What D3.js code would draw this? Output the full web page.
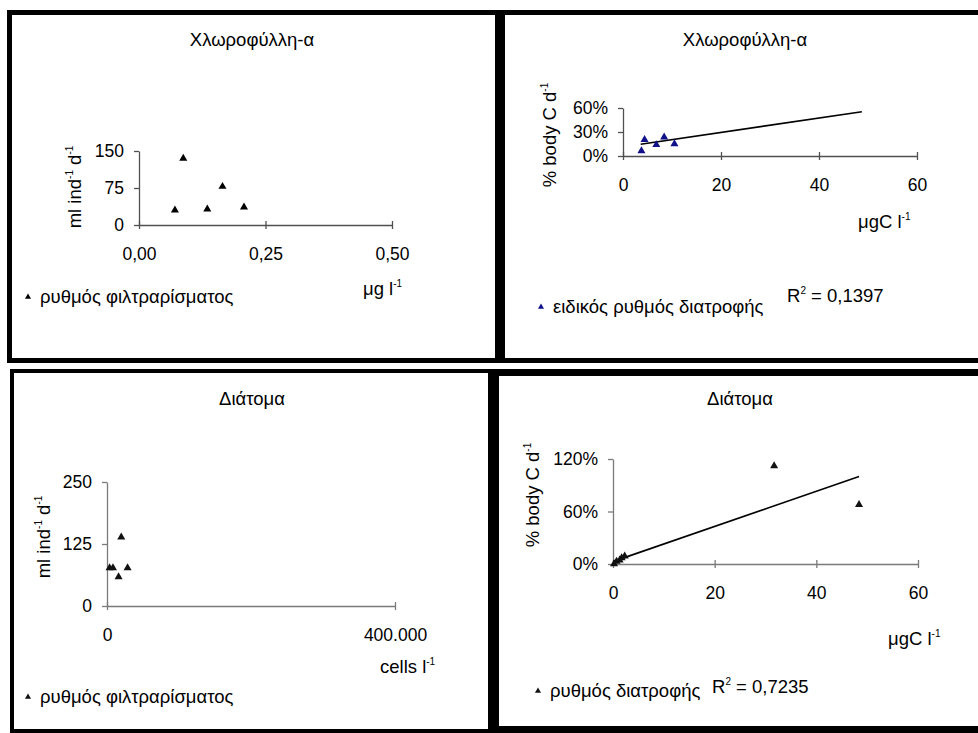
<!DOCTYPE html>
<html>
<head>
<meta charset="utf-8">
<script src="https://cdn.jsdelivr.net/npm/d3@7"></script>
<style>
  body { margin: 0; background: #fff; }
  text { font-family: "Liberation Sans", Arial, sans-serif; }
</style>
</head>
<body>
<svg id="chart" width="978" height="733"></svg>
<script>
// chlorophyll-a: filtration rate (ml ind-1 d-1) vs µg l-1
const chlaFiltX = [0.071, 0.0875, 0.135, 0.165, 0.2075];
const chlaFiltY = [30, 135, 32, 78, 36];
const chlaFiltXTicks = [0, 0.25, 0.5];
const chlaFiltYTicks = [0, 75, 150];

// chlorophyll-a: specific feeding rate (% body C d-1) vs µgC l-1
const chlaFeedX = [3.76, 4.4, 6.8, 8.4, 10.5];
const chlaFeedY = [0.064, 0.205, 0.14, 0.235, 0.152];
const chlaTrendX = [3.6, 48.75];
const chlaTrendY = [0.146, 0.554];
const chlaFeedYTicks = [0, 0.3, 0.6];

// diatoms: filtration rate vs cells l-1
const diatFiltX = [3600, 8300, 16100, 19800, 28600];
const diatFiltY = [77, 77, 58.5, 139, 77];
const diatFiltXTicks = [0, 400000];
const diatFiltYTicks = [0, 125, 250];

// diatoms: feeding rate vs µgC l-1
const diatFeedX = [0.2, 0.7, 1.3, 1.7, 2.3, 31.7, 48.4];
const diatFeedY = [0.0, 0.03, 0.045, 0.07, 0.09, 1.12, 0.678];
const diatTrendX = [0.1, 48.4];
const diatTrendY = [0.03, 1.0];
const diatFeedYTicks = [0, 0.6, 1.2];

const feedXTicks = [0, 20, 40, 60];

const loc = d3.formatLocale({ decimal: ",", thousands: ".", grouping: [3], currency: ["€", ""] });
const fmt2 = loc.format(".2f");
const fmtInt = loc.format(",d");
const fmtPct = loc.format(".0%");

const FS = 18.5;   // titles, legends
const TFS = 17.5;  // tick labels
const svg = d3.select('#chart');
svg.append('rect').attr('width', 978).attr('height', 733).attr('fill', '#fff');

const panels = [
  {
    frame: [7, 10, 493, 353], border: 5,
    title: 'Χλωροφύλλη-α', titlePos: [252, 46],
    plot: { x0: 139, x1: 392, y0: 225, y1: 151 },
    xDomain: [0, 0.5], yDomain: [0, 150],
    xTicks: chlaFiltXTicks, yTicks: chlaFiltYTicks, xFmt: fmt2, yFmt: d => d,
    xs: chlaFiltX, ys: chlaFiltY, color: '#000', axisColor: '#505050',
    xTitle: [['μg l'], ['-1', true]], xTitlePos: [363, 295],
    yTitle: [['ml ind'], ['-1', true], [' d'], ['-1', true]], yTitlePos: [81, 187],
    legend: 'ρυθμός φιλτραρίσματος', legendPos: [40, 303]
  },
  {
    frame: [500, 10, 490, 353], border: 5,
    title: 'Χλωροφύλλη-α', titlePos: [745, 46],
    plot: { x0: 623, x1: 917, y0: 156, y1: 108 },
    xDomain: [0, 60], yDomain: [0, 0.6],
    xTicks: feedXTicks, yTicks: chlaFeedYTicks, xFmt: d => d, yFmt: fmtPct,
    xs: chlaFeedX, ys: chlaFeedY, color: '#10108a', axisColor: '#505050',
    trendX: chlaTrendX, trendY: chlaTrendY,
    xTitle: [['μgC l'], ['-1', true]], xTitlePos: [858, 228],
    yTitle: [['% body C d'], ['-1', true]], yTitlePos: [556, 135],
    legend: 'ειδικός ρυθμός διατροφής', legendPos: [553, 313],
    r2: '0,1397', r2Pos: [787, 302]
  },
  {
    frame: [10, 369, 482, 364], border: 4,
    title: 'Διάτομα', titlePos: [252, 405],
    plot: { x0: 107, x1: 395, y0: 606, y1: 482 },
    xDomain: [0, 400000], yDomain: [0, 250],
    xTicks: diatFiltXTicks, yTicks: diatFiltYTicks, xFmt: fmtInt, yFmt: d => d,
    xs: diatFiltX, ys: diatFiltY, color: '#111', axisColor: '#7a7a7a',
    xTitle: [['cells l'], ['-1', true]], xTitlePos: [380, 673],
    yTitle: [['ml ind'], ['-1', true], [' d'], ['-1', true]], yTitlePos: [50, 537],
    legend: 'ρυθμός φιλτραρίσματος', legendPos: [40, 703]
  },
  {
    frame: [492, 369, 500, 364], border: 7,
    title: 'Διάτομα', titlePos: [740, 405],
    plot: { x0: 613, x1: 918, y0: 564, y1: 459 },
    xDomain: [0, 60], yDomain: [0, 1.2],
    xTicks: feedXTicks, yTicks: diatFeedYTicks, xFmt: d => d, yFmt: fmtPct,
    xs: diatFeedX, ys: diatFeedY, color: '#111', axisColor: '#7a7a7a',
    trendX: diatTrendX, trendY: diatTrendY,
    xTitle: [['μgC l'], ['-1', true]], xTitlePos: [888, 645],
    yTitle: [['% body C d'], ['-1', true]], yTitlePos: [539, 495],
    legend: 'ρυθμός διατροφής', legendPos: [550, 697],
    r2: '0,7235', r2Pos: [712, 693]
  }
];

// text with superscripts: parts = [[text, isSup], ...]
function supText(sel, parts) {
  let raised = false;
  parts.forEach(([t, sup]) => {
    const ts = sel.append('tspan').text(t);
    if (sup && !raised) { ts.attr('font-size', 10).attr('dy', -8); raised = true; }
    else if (!sup && raised) { ts.attr('dy', 8); raised = false; }
  });
  return sel;
}

const tri = d3.symbol().type(d3.symbolTriangle);

panels.forEach(p => {
  const g = svg.append('g');
  const [fx, fy, fw, fh] = p.frame;
  const b = p.border;
  g.append('rect')
    .attr('x', fx + b / 2).attr('y', fy + b / 2)
    .attr('width', fw - b).attr('height', fh - b)
    .attr('fill', '#fff').attr('stroke', '#000').attr('stroke-width', b);

  const x = d3.scaleLinear().domain(p.xDomain).range([p.plot.x0, p.plot.x1]);
  const y = d3.scaleLinear().domain(p.yDomain).range([p.plot.y0, p.plot.y1]);

  // axes
  const xAxis = g.append('g')
    .attr('transform', `translate(0,${p.plot.y0})`)
    .call(d3.axisBottom(x).tickValues(p.xTicks).tickFormat(p.xFmt)
      .tickSizeInner(4).tickSizeOuter(0).tickPadding(19));
  xAxis.selectAll('.tick line').attr('y1', -4);

  const yAxis = g.append('g')
    .attr('transform', `translate(${p.plot.x0},0)`)
    .call(d3.axisLeft(y).tickValues(p.yTicks).tickFormat(p.yFmt)
      .tickSizeInner(5).tickSizeOuter(0).tickPadding(10));

  [xAxis, yAxis].forEach(a => {
    a.select('.domain').attr('stroke', p.axisColor).attr('stroke-width', 1.3);
    a.selectAll('.tick line').attr('stroke', p.axisColor).attr('stroke-width', 1.3);
    a.selectAll('.tick text')
      .attr('font-size', TFS).attr('fill', '#000')
      .attr('font-family', '"Liberation Sans", Arial, sans-serif');
  });

  // trend line
  if (p.trendX) {
    const pts = p.trendX.map((v, i) => [v, p.trendY[i]]);
    g.append('path')
      .attr('d', d3.line().x(d => x(d[0])).y(d => y(d[1]))(pts))
      .attr('fill', 'none').attr('stroke', '#000').attr('stroke-width', 1.6);
  }

  // markers
  g.selectAll('path.pt')
    .data(p.xs.map((v, i) => [v, p.ys[i]]))
    .join('path')
    .attr('class', 'pt')
    .attr('d', tri.size(28)())
    .attr('transform', d => `translate(${x(d[0])},${y(d[1])})`)
    .attr('fill', p.color);

  // title
  g.append('text')
    .attr('x', p.titlePos[0]).attr('y', p.titlePos[1])
    .attr('text-anchor', 'middle').attr('font-size', FS)
    .text(p.title);

  // axis titles
  supText(g.append('text')
    .attr('x', p.xTitlePos[0]).attr('y', p.xTitlePos[1])
    .attr('font-size', FS), p.xTitle);

  supText(g.append('text')
    .attr('transform', `translate(${p.yTitlePos[0]},${p.yTitlePos[1]}) rotate(-90)`)
    .attr('text-anchor', 'middle')
    .attr('font-size', FS), p.yTitle);

  // legend
  g.append('path')
    .attr('d', d3.symbol().type(d3.symbolTriangle).size(16)())
    .attr('transform', `translate(${p.legendPos[0] - 12},${p.legendPos[1] - 6})`)
    .attr('fill', p.color);
  g.append('text')
    .attr('x', p.legendPos[0]).attr('y', p.legendPos[1])
    .attr('font-size', FS)
    .text(p.legend);

  if (p.r2) {
    supText(g.append('text')
      .attr('x', p.r2Pos[0]).attr('y', p.r2Pos[1])
      .attr('font-size', FS), [['R'], ['2', true], [' = ' + p.r2]]);
  }
});
</script>
</body>
</html>
